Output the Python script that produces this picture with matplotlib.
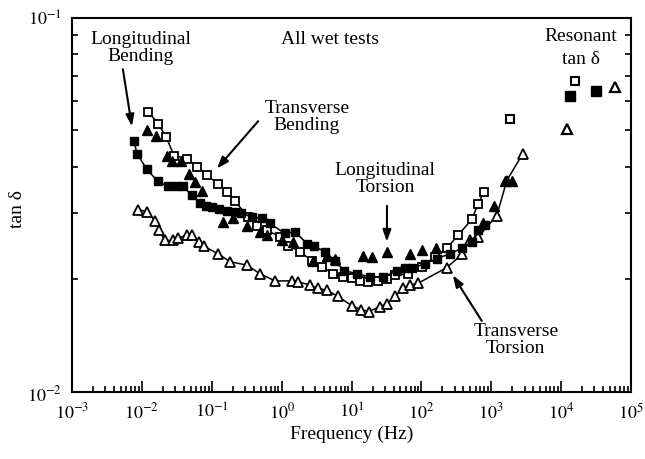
import matplotlib
matplotlib.use("Agg")
import matplotlib.pyplot as plt
from matplotlib.ticker import NullFormatter, FixedLocator, FixedFormatter

plt.rcParams['font.family'] = ['Liberation Serif', 'DejaVu Serif']
plt.rcParams['mathtext.fontset'] = 'stix'

# Longitudinal Bending (filled squares, joined)
lb_freq = [0.0077, 0.0085, 0.0118, 0.017, 0.0236, 0.0308, 0.0387, 0.052, 0.068, 0.083,
           0.10, 0.127, 0.165, 0.215, 0.262, 0.376, 0.52, 0.68, 1.11, 1.55,
           2.3, 2.9, 4.16, 5.8, 7.8, 11.9, 18.3, 28.1, 44.6, 58,
           73, 112, 167, 256, 380, 528, 643, 810]
lb_tan = [0.0469, 0.0433, 0.0393, 0.0365, 0.0354, 0.0354, 0.0354, 0.0335, 0.0319, 0.0313,
          0.0311, 0.0309, 0.0305, 0.0303, 0.0300, 0.0294, 0.0291, 0.0282, 0.0265, 0.0268,
          0.0249, 0.0245, 0.0237, 0.0224, 0.0211, 0.0207, 0.0203, 0.0203, 0.0210, 0.0214,
          0.0214, 0.0220, 0.0227, 0.0234, 0.0242, 0.0252, 0.0270, 0.0280]

# Transverse Bending (open squares, joined)
tb_freq = [0.0122, 0.017, 0.0221, 0.0288, 0.0442, 0.0613, 0.085, 0.123, 0.165, 0.215,
           0.33, 0.444, 0.617, 0.946, 1.23, 1.83, 2.71, 3.77, 5.42, 7.53,
           10.1, 13.2, 17.2, 23.9, 32.1, 41.8, 64.1, 102, 156, 232,
           333, 528, 643, 784]
tb_tan = [0.0561, 0.0521, 0.0481, 0.0428, 0.0420, 0.0400, 0.0379, 0.0360, 0.0343, 0.0323,
          0.0294, 0.0278, 0.0270, 0.0260, 0.0246, 0.0237, 0.0224, 0.0216, 0.0207, 0.0203,
          0.0201, 0.0198, 0.0197, 0.0198, 0.0200, 0.0205, 0.0207, 0.0216, 0.0230, 0.0242,
          0.0262, 0.0289, 0.0317, 0.0341]

# Longitudinal Torsion (filled triangles, not joined)
lt_freq = [0.0118, 0.0159, 0.0229, 0.027, 0.0362, 0.0472, 0.0575, 0.0724, 0.1445, 0.201,
           0.319, 0.49, 0.617, 1.01, 1.45, 2.81, 4.45, 5.79, 14.6, 19.6,
           32.1, 68.4, 102, 161, 759, 1090, 1570, 1970]
lt_tan = [0.0502, 0.0484, 0.0428, 0.0415, 0.0415, 0.0383, 0.0363, 0.0345, 0.0284, 0.0291,
          0.0277, 0.0268, 0.0262, 0.0254, 0.0251, 0.0224, 0.0231, 0.0227, 0.0231, 0.0230,
          0.0237, 0.0233, 0.0240, 0.0243, 0.0282, 0.0313, 0.0365, 0.0367]

# Transverse Torsion (open triangles, joined)
tt_freq = [0.0088, 0.0118, 0.0154, 0.0176, 0.0214, 0.0279, 0.0328, 0.0442, 0.052, 0.0656,
           0.0773, 0.123, 0.182, 0.319, 0.49, 0.80, 1.40, 1.71, 2.54, 3.30,
           4.45, 6.38, 10.1, 13.6, 17.7, 25.5, 32.1, 41.8, 54.3, 68.4,
           89.1, 232, 380, 494, 643, 1200, 1670, 2830]
tt_tan = [0.0307, 0.0303, 0.0287, 0.0270, 0.0254, 0.0254, 0.0257, 0.0263, 0.0263, 0.0252,
          0.0245, 0.0234, 0.0223, 0.0218, 0.0207, 0.0198, 0.0198, 0.0197, 0.0193, 0.0189,
          0.0187, 0.0180, 0.0170, 0.0166, 0.0164, 0.0169, 0.0172, 0.0180, 0.0189, 0.0193,
          0.0195, 0.0215, 0.0233, 0.0255, 0.0259, 0.0296, 0.0367, 0.0433]

# resonant points
res_tb_freq = [1845, 15700]
res_tb_tan = [0.0537, 0.0675]
res_lb_freq = [13300, 31300]
res_lb_tan = [0.0619, 0.0638]
res_tt_freq = [12100, 58700]
res_tt_tan = [0.0505, 0.0654]

fig = plt.figure(figsize=(6.45, 4.6), dpi=100)
ax = fig.add_axes([72/645, 1 - 393/460, 559/645, 374.5/460])
ax.set_xscale('log')
ax.set_yscale('log')
ax.set_xlim(1e-3, 1e5)
ax.set_ylim(1e-2, 1e-1)

lw = 1.1
ax.plot(tt_freq, tt_tan, color='black', lw=lw, marker='^', ms=6.5,
        mfc='white', mec='black', mew=1.3)
ax.plot(tb_freq, tb_tan, color='black', lw=lw, marker='s', ms=5.5,
        mfc='white', mec='black', mew=1.3)
ax.plot(lb_freq, lb_tan, color='black', lw=lw, marker='s', ms=6,
        mfc='black', mec='black')
ax.plot(lt_freq, lt_tan, ls='none', marker='^', ms=7, mfc='black', mec='black')

ax.plot(res_tb_freq, res_tb_tan, ls='none', marker='s', ms=6,
        mfc='white', mec='black', mew=1.5)
ax.plot(res_lb_freq, res_lb_tan, ls='none', marker='s', ms=7, mfc='black', mec='black')
ax.plot(res_tt_freq, res_tt_tan, ls='none', marker='^', ms=7,
        mfc='white', mec='black', mew=1.6)

# ticks
ax.xaxis.set_major_locator(FixedLocator([10.0**k for k in range(-3, 6)]))
ax.xaxis.set_major_formatter(FixedFormatter(['$10^{%d}$' % k for k in range(-3, 6)]))
ax.xaxis.set_minor_formatter(NullFormatter())
ax.yaxis.set_major_locator(FixedLocator([1e-2, 1e-1]))
ax.yaxis.set_major_formatter(FixedFormatter(['$10^{-2}$', '$10^{-1}$']))
ax.yaxis.set_minor_formatter(NullFormatter())
ax.tick_params(which='both', direction='in', top=False, right=True, labelsize=13, width=1.2)
ax.tick_params(which='major', length=8, pad=7)
ax.tick_params(which='minor', length=4.5)
for s in ax.spines.values():
    s.set_linewidth(1.5)

ax.set_xlabel('Frequency (Hz)', fontsize=14, labelpad=2)
ax.set_ylabel('tan δ', fontsize=14)
ax.yaxis.set_label_coords(-0.082, 0.49)

fs = 14
ax.text(0.4615, 0.943, 'All wet tests', transform=ax.transAxes, fontsize=fs,
        ha='center', va='center')
ax.text(0.911, 0.921, 'Resonant\ntan δ', transform=ax.transAxes, fontsize=fs,
        ha='center', va='center', linespacing=1.5)
ax.text(0.123, 0.921, 'Longitudinal\nBending', transform=ax.transAxes, fontsize=fs,
        ha='center', va='center', linespacing=1.0)
ax.text(0.420, 0.737, 'Transverse\nBending', transform=ax.transAxes, fontsize=fs,
        ha='center', va='center', linespacing=1.0)
ax.text(0.560, 0.571, 'Longitudinal\nTorsion', transform=ax.transAxes, fontsize=fs,
        ha='center', va='center', linespacing=1.0)
ax.text(0.794, 0.142, 'Transverse\nTorsion', transform=ax.transAxes, fontsize=fs,
        ha='center', va='center', linespacing=1.0)

arrow = dict(arrowstyle='-|>,head_length=0.7,head_width=0.25', color='black',
             lw=1.5, shrinkA=0, shrinkB=0)
ax.annotate('', xy=(0.0072, 0.0512), xycoords='data',
            xytext=(0.091, 0.862), textcoords='axes fraction', arrowprops=arrow)
ax.annotate('', xy=(0.1186, 0.0395), xycoords='data',
            xytext=(0.333, 0.723), textcoords='axes fraction', arrowprops=arrow)
ax.annotate('', xy=(32.1, 0.0252), xycoords='data',
            xytext=(0.5635, 0.497), textcoords='axes fraction', arrowprops=arrow)
ax.annotate('', xy=(282, 0.0205), xycoords='data',
            xytext=(0.733, 0.190), textcoords='axes fraction', arrowprops=arrow)

fig.savefig('out.png', dpi=100)
